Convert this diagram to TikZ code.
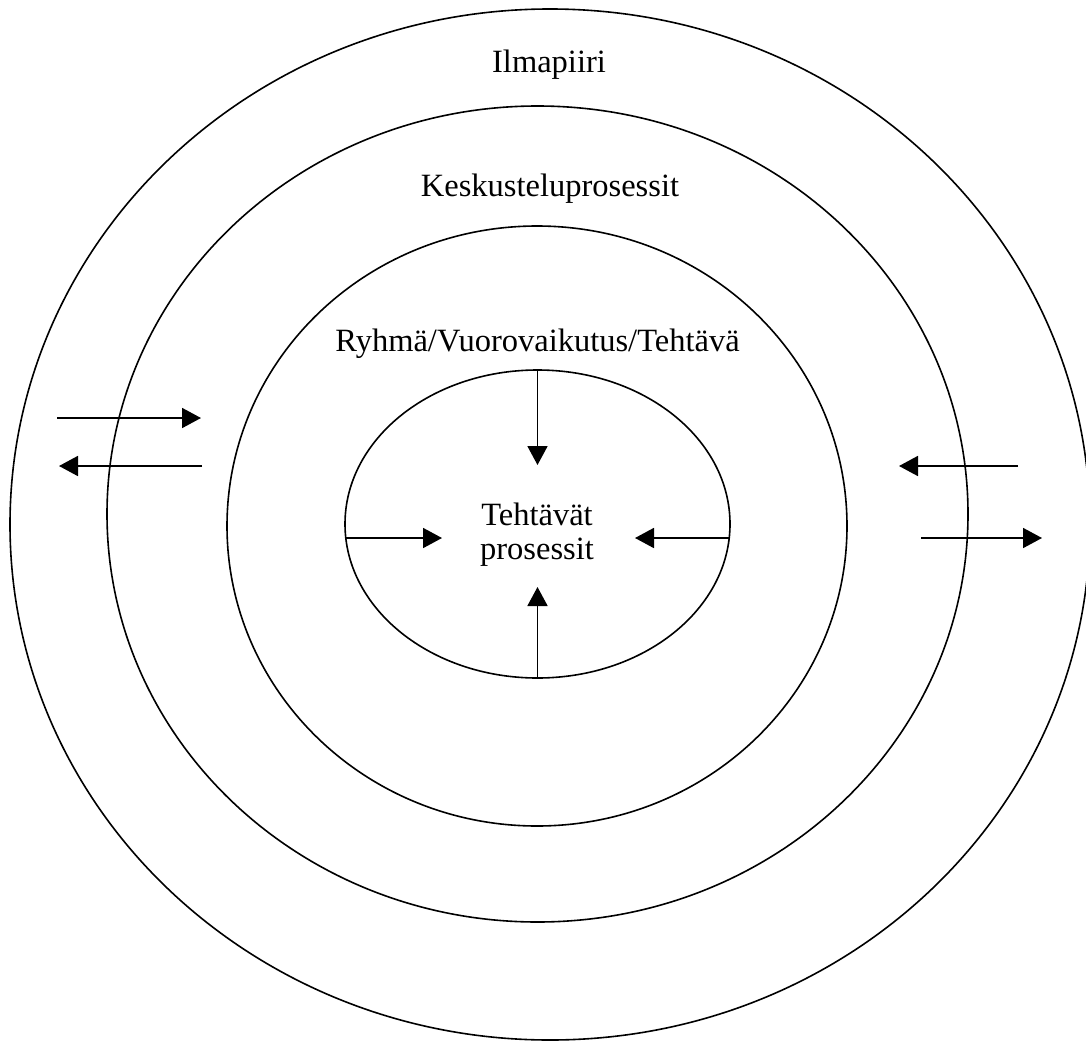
\documentclass[tikz,border=0pt]{standalone}
\usepackage{fontspec}
\setmainfont{Liberation Serif}
\usetikzlibrary{shapes.geometric,arrows.meta}
\begin{document}
\begin{tikzpicture}[x=1pt,y=-1pt,
  ring/.style={draw, ellipse, line width=1.6pt, inner sep=0pt, outer sep=0pt},
  flow/.style={line width=1.8pt, -{Triangle[length=19pt,width=20pt]}},
  lbl/.style={font=\fontsize{32.5}{38}\selectfont, inner sep=0pt, anchor=base}]
\useasboundingbox (0,0) rectangle (1086,1041);

% nested rings
\node[ring, minimum width=1080pt, minimum height=1031pt] (atmos) at (550,524.5) {};
\node[ring, minimum width=861pt, minimum height=816pt] (talk) at (537.5,514) {};
\node[ring, minimum width=620pt, minimum height=600pt] (group) at (537,526) {};
\node[ring, minimum width=385pt, minimum height=308pt] (task) at (537.5,524) {};

% ring labels
\node[lbl] (l1) at (549,73) {Ilmapiiri};
\node[lbl] (l2) at (550,196) {Keskusteluprosessit};
\node[lbl] (l3) at (537.5,351) {Ryhmä/Vuorovaikutus/Tehtävä};
\node[lbl] (l4a) at (537,525) {Tehtävät};
\node[lbl] (l4b) at (537,559) {prosessit};

% arrows into the core
\coordinate (cw) at (442,538);
\coordinate (ce) at (635,538);
\coordinate (cn) at (537.5,465);
\coordinate (cs) at (537.5,587);
\draw[flow] ([yshift=-14pt]task.west) -- (cw);
\draw[flow] ([yshift=-14pt]task.east) -- (ce);
\draw[flow] (task.north) -- (cn);
\draw[flow] (task.south) -- (cs);

% exchange with the surroundings
\coordinate (la1) at (57,418);  \coordinate (la2) at (201,418);
\coordinate (lb1) at (202,466); \coordinate (lb2) at (59,466);
\coordinate (ra1) at (1018,466); \coordinate (ra2) at (899,466);
\coordinate (rb1) at (921,538);  \coordinate (rb2) at (1042,538);
\draw[flow] (la1) -- (la2);
\draw[flow] (lb1) -- (lb2);
\draw[flow] (ra1) -- (ra2);
\draw[flow] (rb1) -- (rb2);
\end{tikzpicture}
\end{document}
